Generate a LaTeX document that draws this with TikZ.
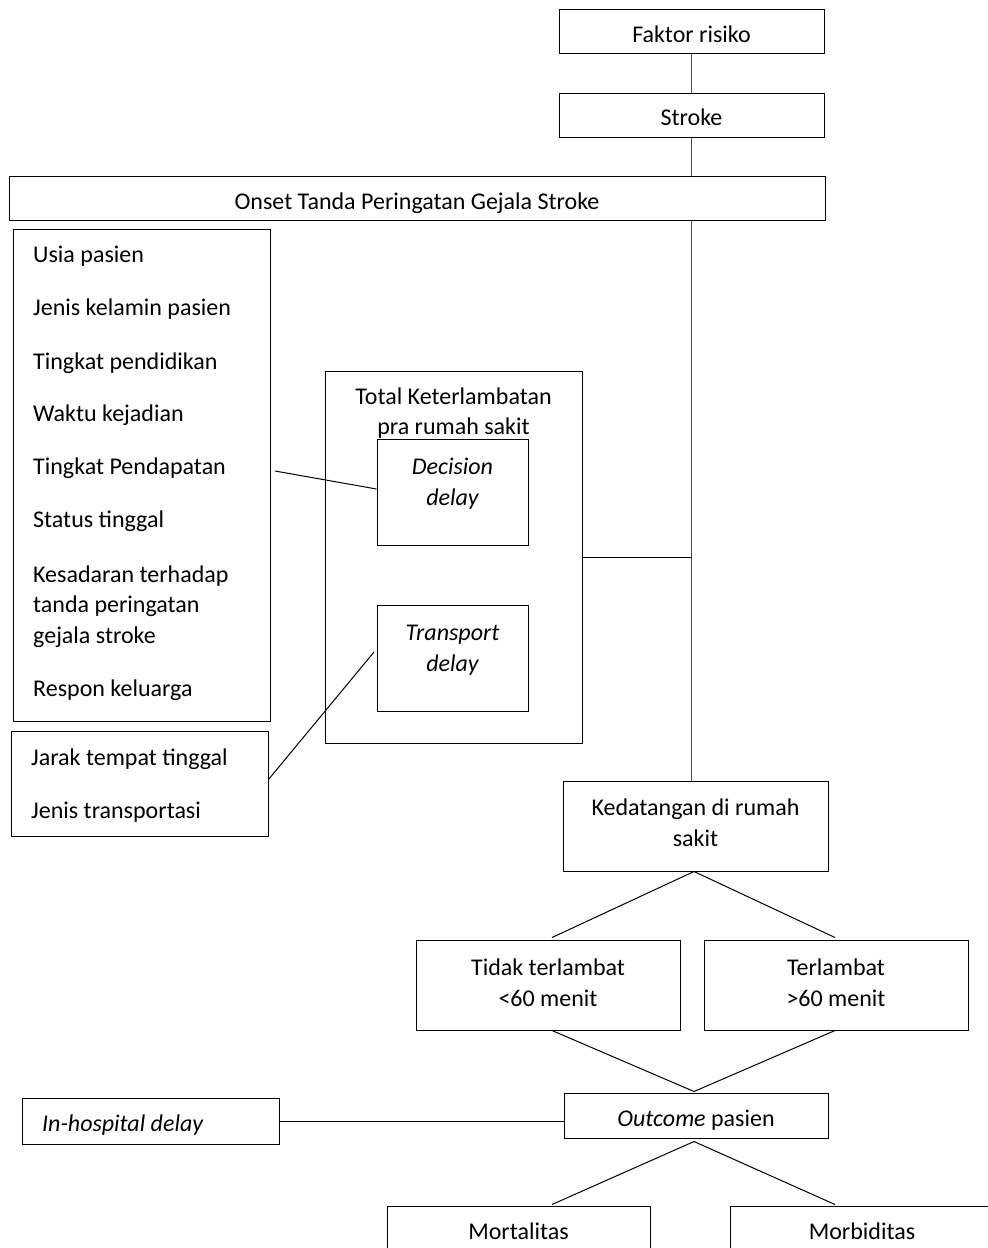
\documentclass[tikz,border=0pt]{standalone}
\usepackage{fontspec}
\setmainfont{Carlito}
\begin{document}
\begin{tikzpicture}[x=1pt,y=-1pt,
  box/.style={draw=black, line width=1pt, fill=white, inner sep=0pt, rectangle},
  lbl/.style={font=\fontsize{24}{30.5}\selectfont, inner sep=0pt, anchor=base, align=center},
  lbll/.style={font=\fontsize{24}{30.5}\selectfont, inner sep=0pt, anchor=base west, align=left},
  conn/.style={draw=black, line width=1pt},
  trunk/.style={draw=black!70, line width=1.6pt}]
\useasboundingbox (0,0) rectangle (988,1248);
\clip (0,0) rectangle (988,1248);

% top chain
\node[box, minimum width=265, minimum height=44] (faktor) at (691.5,31) {};
\node[lbl] (tfaktor) at (691.5,42) {Faktor risiko};
\node[box, minimum width=265, minimum height=44] (stroke) at (691.5,115) {};
\node[lbl] (tstroke) at (691.5,125) {Stroke};
\node[box, minimum width=816, minimum height=44] (onset) at (417,198) {};
\node[lbl] (tonset) at (417,209) {Onset Tanda Peringatan Gejala Stroke};

% left factor list
\node[box, minimum width=257, minimum height=492] (list) at (141.5,475) {};
\node[lbll] (f1) at (33,262) {Usia pasien};
\node[lbll] (f2) at (33,315) {Jenis kelamin pasien};
\node[lbll] (f3) at (33,369) {Tingkat pendidikan};
\node[lbll] (f4) at (33,421) {Waktu kejadian};
\node[lbll] (f5) at (33,474) {Tingkat Pendapatan};
\node[lbll] (f6) at (33,527) {Status tinggal};
\node[lbll] (f7) at (33,643) {Kesadaran terhadap\\tanda peringatan\\gejala stroke};
\node[lbll] (f8) at (33,696) {Respon keluarga};

\node[box, minimum width=257, minimum height=105] (jarak) at (139.5,783.5) {};
\node[lbll] (j1) at (31,765) {Jarak tempat tinggal};
\node[lbll] (j2) at (31,818) {Jenis transportasi};

% total delay
\node[box, minimum width=257, minimum height=372] (total) at (453.5,557) {};
\node[lbl] (ttotal) at (453.5,434.5) {Total Keterlambatan\\pra rumah sakit};
\node[box, minimum width=151, minimum height=106] (decision) at (452.5,492) {};
\node[lbl] (tdecision) at (452.5,505) {\itshape Decision\\\itshape delay};
\node[box, minimum width=151, minimum height=106] (transport) at (452.5,658) {};
\node[lbl] (ttransport) at (452.5,671) {\itshape Transport\\\itshape delay};

% arrival
\node[box, minimum width=265, minimum height=90] (kedat) at (695.5,826) {};
\node[lbl] (tkedat) at (695.5,846) {Kedatangan di rumah\\sakit};

\node[box, minimum width=264, minimum height=90] (tidak) at (548,985) {};
\node[lbl] (ttidak) at (548,1006) {Tidak terlambat\\<60 menit};
\node[box, minimum width=264, minimum height=90] (terl) at (836,985) {};
\node[lbl] (tterl) at (836,1006) {Terlambat\\>60 menit};

\node[box, minimum width=264, minimum height=45] (outcome) at (696,1115.5) {};
\node[lbl] (toutcome) at (696,1126) {\itshape Outcome\upshape{} pasien};

\node[box, minimum width=257, minimum height=46] (inhosp) at (150.5,1121) {};
\node[lbll] (tinhosp) at (42,1131) {\itshape In-hospital delay};

\node[box, minimum width=263, minimum height=90] (mort) at (518.5,1251) {};
\node[lbl] (tmort) at (518.5,1239) {Mortalitas};
\node[box, minimum width=264, minimum height=90] (morb) at (862,1251) {};
\node[lbl] (tmorb) at (862,1239) {Morbiditas};

% connectors
\draw[trunk] (faktor) -- (stroke);
\draw[trunk] (stroke.south) -- (stroke.south |- onset.north);
\draw[trunk] (stroke.south |- onset.south) -- (stroke.south |- kedat.north);
\draw[conn] (total.east) -- (total.east -| stroke.south);

\coordinate (dstart) at (275,471);
\draw[conn] (dstart) -- ([yshift=3pt]decision.west);
\coordinate (tend) at (374,652);
\draw[conn] ([yshift=4pt]jarak.east) -- (tend);

\draw[conn] ([xshift=-1.5pt]kedat.south) -- ([xshift=4pt,yshift=2pt]tidak.north);
\draw[conn] ([xshift=-1.5pt]kedat.south) -- ([xshift=-1pt,yshift=2pt]terl.north);
\draw[conn] ([xshift=4pt]tidak.south) -- ([xshift=-2pt,yshift=1pt]outcome.north);
\draw[conn] ([xshift=-1pt]terl.south) -- ([xshift=-2pt,yshift=1pt]outcome.north);
\draw[conn] (inhosp.east) -- (inhosp.east -| outcome.west);
\draw[conn] ([xshift=-2pt,yshift=-3pt]outcome.south) -- ([xshift=33.5pt,yshift=1pt]mort.north);
\draw[conn] ([xshift=-2pt,yshift=-3pt]outcome.south) -- ([xshift=-27pt,yshift=1pt]morb.north);
\end{tikzpicture}
\end{document}
